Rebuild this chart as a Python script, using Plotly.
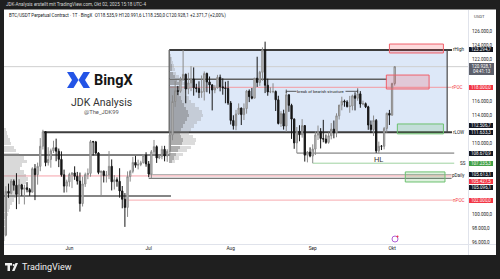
import plotly.graph_objects as go
import pandas as pd

# ---------------- data ----------------
dates = pd.date_range("2025-05-08", "2025-10-02", freq="D")

opens = [97034, 103241, 102970, 104696, 104106, 102812, 104170, 103539, 103744, 103489, 103126, 106455, 105606, 106791, 109643, 111696, 107318, 107761, 109004, 109434, 108938, 107781, 105589, 103985,
         104591, 105642, 105857, 105376, 104696, 101509, 104288, 105615, 105793, 110294, 110257, 108686, 105929, 106090, 105472, 105552, 106796, 104601, 104883, 104657, 103297, 102120, 100963, 105333, 106083, 107340, 106947, 107047, 107296, 108356,
         107135, 105698, 108850, 109584, 107984, 108198, 109203, 108262, 108922, 111233, 115987, 117516, 117435, 119086, 119841, 117758, 118630, 119177, 117925, 117840, 117265, 117380, 119954, 118755, 118340, 117614, 117919, 119415, 118062, 117922, 117831,
         115764, 113297, 112546, 114208, 115055, 114129, 114992, 117472, 116674, 116462, 119294, 118686, 120134, 123306, 118295, 117342, 117380, 117405, 116227, 112872, 114271, 112500, 116936, 115438, 113493, 110111, 111764, 111262, 112566, 108377, 108817,
         108246, 109237, 111240, 111705, 110730, 110659, 110187, 111137, 112065, 111546, 113960, 115482, 116029, 115918, 115268, 115349, 116788, 116447, 117073, 115632, 115685, 115232, 112650, 111998, 113307, 108994, 109643, 109635, 112163, 114311,
         114048, 118535.9]
highs = [103971, 104340, 104984, 104937, 105819, 104977, 104300, 104192, 104550, 103716, 106660, 107108, 107320, 110797, 111980, 111800, 109500, 109300, 110422, 110718, 109312, 108910, 106325, 104900,
         105882, 105935, 106794, 105997, 105909, 105333, 105900, 106488, 110530, 110400, 110392, 108800, 106182, 106210, 106128, 108952, 107771, 105550, 105226, 106524, 104000, 103000, 106074, 106290, 108135, 108272, 107735, 107577, 108528, 108789,
         107540, 109100, 110529, 109765, 108420, 109700, 109700, 109216, 111999, 116868, 118869, 118200, 119488, 123294.7, 119940, 120063, 120999, 120820, 118499, 118856, 119676, 120247, 120090, 119535, 118451, 118297, 119766, 119800, 119273, 118792, 118922,
         116052, 114036, 114799, 115720, 115127, 115716, 117630, 117700, 117900, 119311, 122335, 120324, 123667, 124474, 119216, 117999, 118575, 117543, 116800, 114616, 114821, 117429, 117000, 115666, 113600, 112371, 112625, 113485, 112635, 108952, 109480,
         109912, 111771, 112575, 112206, 113384, 111307, 111600, 112924, 113293, 114313, 115488, 116665, 116250, 116165, 116781, 116964, 117286, 117900, 117459, 116100, 115843, 115380, 113290, 114000, 113500, 110300, 109800, 112375, 114400, 114792,
         118649, 120991.6]
lows = [96913, 102321, 102800, 103346, 100718, 101429, 102603, 101383, 103100, 102612, 103105, 102000, 104192, 106100, 109177, 106800, 106900, 106600, 108670, 107516, 106679, 105322, 103068, 103100,
        103910, 103700, 104872, 104200, 100372, 101095, 103871, 104964, 105318, 108331, 108500, 105671, 102664, 104500, 104494, 104980, 103371, 103500, 103900, 102345, 100838, 98200, 99613, 104622, 105808, 106595, 106356, 106811, 107206, 106733,
        105250, 105100, 108528, 107273, 107800, 107800, 107500, 107429, 108324, 110500, 115222, 116900, 117224, 118905, 115736, 117017, 117450, 116812, 117277, 116467, 116515, 116128, 117301, 117103, 114723, 117159, 117841, 117427, 116950, 115738, 115500,
        112722, 112000, 111920, 114103, 112650, 113355, 114259, 115900, 116300, 116462, 118050, 118207, 118920, 117180, 116803, 117172, 117172, 114640, 112732, 112380, 112000, 111684, 114523, 110680, 109274, 108670.9, 110345, 110862, 107463, 107350, 108076,
        107235.3, 108393, 110528, 109329, 110206, 109977, 110000, 110621, 110766, 110917, 113430, 114740, 115245, 115135, 114384, 114737, 114720, 116092, 115100, 115450, 115053, 111967, 111508, 111100, 108690, 108620, 109100, 109200, 111560, 112656,
        113970, 118250]
closes = [103241, 102970, 104696, 104106, 102812, 104170, 103539, 103744, 103489, 103126, 106455, 105606, 106791, 109643, 111696, 107318, 107761, 109004, 109434, 108938, 107781, 105589, 103985, 104591,
          105642, 105857, 105376, 104696, 101509, 104288, 105615, 105793, 110294, 110257, 108686, 105929, 106090, 105472, 105552, 106796, 104601, 104883, 104657, 103297, 102120, 100963, 105333, 106083, 107340, 106947, 107047, 107296, 108356, 107135,
          105698, 108850, 109584, 107984, 108198, 109203, 108262, 108922, 111233, 115987, 117516, 117435, 119086, 119841, 117758, 118630, 119177, 117925, 117840, 117265, 117380, 119954, 118755, 118340, 117614, 117919, 119415, 118062, 117922, 117831, 115764,
          113297, 112546, 114208, 115055, 114129, 114992, 117472, 116674, 116462, 119294, 118686, 120134, 123306, 118295, 117342, 117380, 117405, 116227, 112872, 114271, 112500, 116936, 115438, 113493, 110111, 111764, 111262, 112566, 108377, 108817, 108246,
          109237, 111240, 111705, 110730, 110659, 110187, 111137, 112065, 111546, 113960, 115482, 116029, 115918, 115268, 115349, 116788, 116447, 117073, 115632, 115685, 115232, 112650, 111998, 113307, 108994, 109643, 109635, 112163, 114311, 114048,
          118535.9, 120928.1]

# horizontal levels
line_names = ["rHigh", "rLOW", "mid", "rPOC", "last", "HL", "SS", "pD_top", "pD_mid", "pD_bot", "left_hi", "left_lo", "nPOC"]
line_prices = [123294.7, 111633.3, 119150, 118000, 120928.1, 108670.9, 107235.3, 105613.1, 105427.5, 105096.1, 108400, 102600, 102000]
line_start = ["2025-07-08 18:00", "2025-05-22", "2025-07-08 18:00", "2025-07-08 18:00", "2025-05-07", "2025-08-26", "2025-09-01",
              "2025-07-01", "2025-05-07", "2025-07-01", "2025-05-07", "2025-05-07", "2025-06-22"]
line_end = ["2025-10-23 16:00", "2025-10-23 16:00", "2025-09-29", "2025-10-23 12:00", "2025-10-30", "2025-10-24 12:00", "2025-10-24 12:00",
            "2025-10-23 12:00", "2025-10-23 12:00", "2025-10-23 12:00", "2025-07-09", "2025-07-09 10:00", "2025-10-24"]

# zones
range_box = dict(x0="2025-07-08 18:00", x1="2025-10-21 20:00", y0=111633.3, y1=123294.7)
zone_kind = ["red", "red", "green", "green"]
zone_x0 = ["2025-09-30", "2025-09-28 20:00", "2025-10-03", "2025-10-06"]
zone_x1 = ["2025-10-20 10:00", "2025-10-15", "2025-10-20 10:00", "2025-10-21"]
zone_y0 = [122870, 117760, 111400, 104570]
zone_y1 = [124140, 119740, 112800, 106000]

bos_x = ["2025-08-22", "2025-09-18"]
bos_y = 117430

# volume profiles (relative volume per 500-level)
vp_left_prices = [112000, 111500, 111000, 110500, 110000, 109500, 109000, 108500, 108000, 107500, 107000, 106500, 106000, 105500, 105000, 104500,
                  104000, 103500, 103000, 102500, 102000, 101500, 101000, 100500, 100000, 99500, 99000, 98500, 98000, 97500, 97000, 96500]
vp_left_vol = [2, 3, 4, 6, 7, 10, 12, 15, 20, 23, 18, 16, 20, 22, 24, 22, 18, 16, 14, 12, 10, 8, 6, 5, 4, 3, 3, 2, 2, 1.5, 1.5, 1]
vp_mid_prices = [123000, 122500, 122000, 121500, 121000, 120500, 120000, 119500, 119000, 118500, 118000, 117500, 117000, 116500, 116000, 115500,
                 115000, 114500, 114000, 113500, 113000, 112500, 112000, 111500, 111000, 110500, 110000, 109500, 109000, 108500, 108000, 107500]
vp_mid_total = [1, 2, 3, 4, 5, 6, 7, 10, 14, 16, 18, 17, 16, 20, 22, 26, 30, 33, 34, 32, 28, 25, 22, 20, 24, 27, 26, 22, 18, 14, 10, 6]
vp_mid_inner = [0.5, 1, 1.5, 2, 2.5, 3, 4, 6, 8, 10, 11, 10, 10, 12, 13, 15, 17, 19, 20, 18, 16, 14, 12, 11, 12, 14, 13, 11, 9, 7, 5, 3]

# price-scale ticks that stay visible (others are covered by price tags)
y_ticks = [96000, 98000, 100000, 110000, 114000, 116000, 122000, 124000, 126000]
x_tickvals = ["2025-06-01", "2025-07-01", "2025-08-01", "2025-09-01", "2025-10-01"]
x_ticktext = ["Jun", "Jul", "Aug", "Sep", "Okt"]

title_text = "BTC/USDT Perpetual Contract · 1T · BingX  O118.535,9 H120.991,6 L118.250,0 C120.928,1 +2.371,7 (+2,00%)"
header_text = "JDK-Analysis erstellt mit TradingView.com, Okt 02, 2025 15:18 UTC-4"

# ---------------- layout helpers ----------------
W, H = 500, 279
PL, PR, PT, PB = 4, 468, 10, 244
X_RANGE = ["2025-05-07 07:00", "2025-10-29 17:00"]
Y_RANGE = [95774, 128965]
FONT = "Roboto, Liberation Sans, sans-serif"


def px(x):
    return (x - PL) / (PR - PL)


def py(y):
    return (PB - y) / (PB - PT)


def de(v):
    s = f"{v:,.1f}"
    return s.replace(",", "X").replace(".", ",").replace("X", ".")


MS_PER_UNIT = 86400000 / 2.645  # one volume unit ~ one pixel

fig = go.Figure()

# volume profiles
fig.add_trace(go.Bar(y=vp_left_prices, x=[v * MS_PER_UNIT for v in vp_left_vol], base=X_RANGE[0], orientation="h",
                     width=480, marker=dict(color="rgba(140,140,140,0.33)", line=dict(width=0)), hoverinfo="skip"))
fig.add_trace(go.Bar(y=vp_mid_prices, x=[v * MS_PER_UNIT for v in vp_mid_total], base=range_box["x0"], orientation="h",
                     width=480, marker=dict(color="rgba(150,150,150,0.33)", line=dict(width=0)), hoverinfo="skip"))
fig.add_trace(go.Bar(y=vp_mid_prices, x=[v * MS_PER_UNIT for v in vp_mid_inner], base=range_box["x0"], orientation="h",
                     width=480, marker=dict(color="rgba(110,110,110,0.42)", line=dict(width=0)), hoverinfo="skip"))

fig.add_trace(go.Candlestick(
    x=dates, open=opens, high=highs, low=lows, close=closes,
    increasing=dict(line=dict(color="#8a8a8a", width=1), fillcolor="#d2d2d2"),
    decreasing=dict(line=dict(color="#161616", width=1), fillcolor="#161616"),
    whiskerwidth=0, hoverinfo="skip"))

shapes = []
# white panel
shapes.append(dict(type="rect", xref="paper", yref="paper", x0=px(4), x1=px(496), y0=py(255), y1=py(9.5),
                   fillcolor="white", line=dict(width=0), layer="below"))
# range box fill
shapes.append(dict(type="rect", xref="x", yref="y", **range_box, fillcolor="#dde8f8", line=dict(width=0), layer="below"))

line_style = {
    "rHigh": ("#3d3d3d", 2, "solid"), "rLOW": ("#3d3d3d", 2, "solid"), "mid": ("#606060", 1.5, "solid"),
    "rPOC": ("#f49aa2", 1, "solid"), "last": ("#cfcfcf", 1, "solid"), "HL": ("#6a6a6a", 1, "solid"),
    "SS": ("#9ed3a0", 1, "solid"), "pD_top": ("#a8a8a8", 1, "solid"), "pD_mid": ("#f6a3aa", 1, "solid"),
    "pD_bot": ("#555555", 1, "solid"), "left_hi": ("#555555", 1.5, "solid"), "left_lo": ("#858585", 2, "solid"),
    "nPOC": ("#f7aab0", 1, "solid"),
}
for n, p, a, b in zip(line_names, line_prices, line_start, line_end):
    c, w, d = line_style[n]
    shapes.append(dict(type="line", xref="x", yref="y", x0=a, x1=b, y0=p, y1=p, line=dict(color=c, width=w, dash=d),
                       layer="below"))
# range box verticals
for xv in (range_box["x0"], range_box["x1"]):
    shapes.append(dict(type="line", xref="x", yref="y", x0=xv, x1=xv, y0=range_box["y0"], y1=range_box["y1"],
                       line=dict(color="#4a4a4a", width=1.2), layer="below"))
# zones
for k, a, b, lo, hi in zip(zone_kind, zone_x0, zone_x1, zone_y0, zone_y1):
    if k == "red":
        fc, lc = "rgba(242,54,69,0.18)", "#f0606b"
    else:
        fc, lc = "rgba(76,175,80,0.18)", "#6cc06f"
    shapes.append(dict(type="rect", xref="x", yref="y", x0=a, x1=b, y0=lo, y1=hi, fillcolor=fc,
                       line=dict(color=lc, width=1), layer="above"))
# break of structure bracket
shapes.append(dict(type="line", xref="x", yref="y", x0=bos_x[0], x1=bos_x[1], y0=bos_y, y1=bos_y,
                   line=dict(color="#333333", width=0.8), layer="above"))
for xv in bos_x:
    shapes.append(dict(type="line", xref="x", yref="y", x0=xv, x1=xv, y0=bos_y - 250, y1=bos_y + 250,
                       line=dict(color="#333333", width=0.8), layer="above"))
# axis separators
shapes.append(dict(type="line", xref="paper", yref="paper", x0=px(4), x1=px(496), y0=py(244.5), y1=py(244.5),
                   line=dict(color="#e0e3eb", width=1)))
shapes.append(dict(type="line", xref="paper", yref="paper", x0=px(468.5), x1=px(468.5), y0=py(10), y1=py(255),
                   line=dict(color="#e0e3eb", width=1)))


# BingX logo icon
def poly(pts):
    return "M " + " L ".join(f"{px(a)},{py(b)}" for a, b in pts) + " Z"


shapes.append(dict(type="path", xref="paper", yref="paper",
                   path=poly([(67, 72), (73.5, 72), (78.5, 80), (73.5, 88), (67, 88), (72, 80)]),
                   fillcolor="#2354e6", line=dict(width=0)))
shapes.append(dict(type="path", xref="paper", yref="paper",
                   path=poly([(90, 72), (83.5, 72), (78.5, 80), (83.5, 88), (90, 88), (85, 80)]),
                   fillcolor="#2354e6", line=dict(width=0)))
# TradingView logo icon
shapes.append(dict(type="path", xref="paper", yref="paper",
                   path=poly([(5, 263), (12, 263), (12, 265.5), (10, 265.5), (10, 271), (7.5, 271), (7.5, 265.5), (5, 265.5)]),
                   fillcolor="#f0f0f0", line=dict(width=0)))
shapes.append(dict(type="circle", xref="paper", yref="paper", x0=px(12.6), x1=px(14.8), y0=py(266.2), y1=py(264),
                   fillcolor="#f0f0f0", line=dict(width=0)))
shapes.append(dict(type="path", xref="paper", yref="paper",
                   path=poly([(15.5, 263), (18, 263), (14.5, 271), (12, 271)]),
                   fillcolor="#f0f0f0", line=dict(width=0)))
# event icon near Okt
shapes.append(dict(type="circle", xref="paper", yref="paper", x0=px(392), x1=px(398), y0=py(242), y1=py(236),
                   fillcolor="white", line=dict(color="#b05fd6", width=1)))
shapes.append(dict(type="circle", xref="paper", yref="paper", x0=px(396.5), x1=px(398.5), y0=py(237.5), y1=py(235.5),
                   fillcolor="#f23645", line=dict(width=0)))

ann = []
# header / title
ann.append(dict(xref="paper", yref="paper", x=px(4), y=py(4.7), text=header_text, showarrow=False, xanchor="left",
                yanchor="middle", font=dict(size=4.6, color="#d6d6d6", family=FONT)))
ann.append(dict(xref="paper", yref="paper", x=px(7), y=py(15.5), text=title_text, showarrow=False, xanchor="left",
                yanchor="middle", font=dict(size=4.5, color="#131722", family=FONT)))
ann.append(dict(xref="paper", yref="paper", x=px(472), y=py(16.5), text="USDT", showarrow=False, xanchor="left",
                yanchor="middle", font=dict(size=4.3, color="#444", family=FONT)))
# logo text
ann.append(dict(xref="paper", yref="paper", x=px(92), y=py(80.5), text="<b>BingX</b>", showarrow=False, xanchor="left",
                yanchor="middle", font=dict(size=14.5, color="#151515", family=FONT)))
ann.append(dict(xref="paper", yref="paper", x=px(101), y=py(102), text="JDK Analysis", showarrow=False,
                xanchor="center", yanchor="middle", font=dict(size=10.5, color="#333", family=FONT)))
ann.append(dict(xref="paper", yref="paper", x=px(101), y=py(112), text="@The_JDK99", showarrow=False,
                xanchor="center", yanchor="middle", font=dict(size=5.8, color="#555", family=FONT)))
ann.append(dict(xref="paper", yref="paper", x=px(20), y=py(267), text="TradingView", showarrow=False, xanchor="left",
                yanchor="middle", font=dict(size=9, color="#f0f0f0", family=FONT)))

# price tags
tags = [(123294.7, "#131722", 0), (118000, "#f23645", 0), (112506.7, "#131722", 0.3), (111633.3, "#131722", -0.3),
        (108670.9, "#131722", 0), (107235.3, "#43a047", 0), (105613.1, "#131722", 0.3), (105427.5, "#f23645", -5.4),
        (105096.1, "#131722", -9.7), (102000, "#f23645", 0)]
for v, c, sh in tags:
    ann.append(dict(xref="paper", yref="y", x=px(469), y=v, yshift=sh, text=de(v), showarrow=False, xanchor="left",
                    yanchor="middle", bgcolor=c, borderpad=0.2, borderwidth=0, width=24,
                    font=dict(size=4.5, color="white", family=FONT)))
ann.append(dict(xref="paper", yref="y", x=px(469), y=closes[-1], yshift=3.8, text=de(closes[-1]) + "<br>04:41:13",
                showarrow=False, xanchor="left", yanchor="top", bgcolor="#5d606b", borderpad=0.6, borderwidth=0, width=24,
                font=dict(size=4.5, color="white", family=FONT)))

# line labels
labels = [("rHigh", 123294.7, 459, "#222"), ("rPOC", 118000, 457, "#f23645"), ("rLOW", 111633.3, 458, "#222"),
          ("SS", 107235.3, 463, "#222"), ("pDaily", 105427.5, 458, "#222"), ("nPOC", 102000, 459, "#f23645")]
for t, v, xx, c in labels:
    ann.append(dict(xref="paper", yref="y", x=px(xx), y=v, text=t, showarrow=False, xanchor="center",
                    yanchor="middle", font=dict(size=4.6, color=c, family=FONT)))
ann.append(dict(xref="x", yref="y", x="2025-09-26", y=line_prices[5], yshift=-6, text="HL", showarrow=False,
                yanchor="middle", font=dict(size=7.5, color="#333", family=FONT)))
ann.append(dict(xref="x", yref="y", x="2025-09-04", y=bos_y, text="break of bearish structure", showarrow=False,
                yanchor="middle", bgcolor="#dde8f8", borderpad=0, font=dict(size=4.1, color="#222", family=FONT)))

fig.update_layout(
    width=W, height=H, autosize=False,
    margin=dict(l=PL, r=W - PR, t=PT, b=H - PB, pad=0),
    paper_bgcolor="#1f1f1f", plot_bgcolor="white",
    showlegend=False, barmode="overlay", bargap=0,
    shapes=shapes, annotations=ann,
    xaxis=dict(type="date", range=X_RANGE, rangeslider=dict(visible=False), showgrid=False, zeroline=False,
               tickvals=x_tickvals, ticktext=x_ticktext, ticks="", automargin=False,
               tickfont=dict(size=4.8, color="#222", family=FONT), fixedrange=True),
    yaxis=dict(side="right", range=Y_RANGE, showgrid=False, zeroline=False, tickvals=y_ticks,
               ticktext=[de(v) for v in y_ticks], ticks="", automargin=False, ticklabelstandoff=3,
               tickfont=dict(size=4.6, color="#222", family=FONT), fixedrange=True),
)

fig.write_html("out.html")
